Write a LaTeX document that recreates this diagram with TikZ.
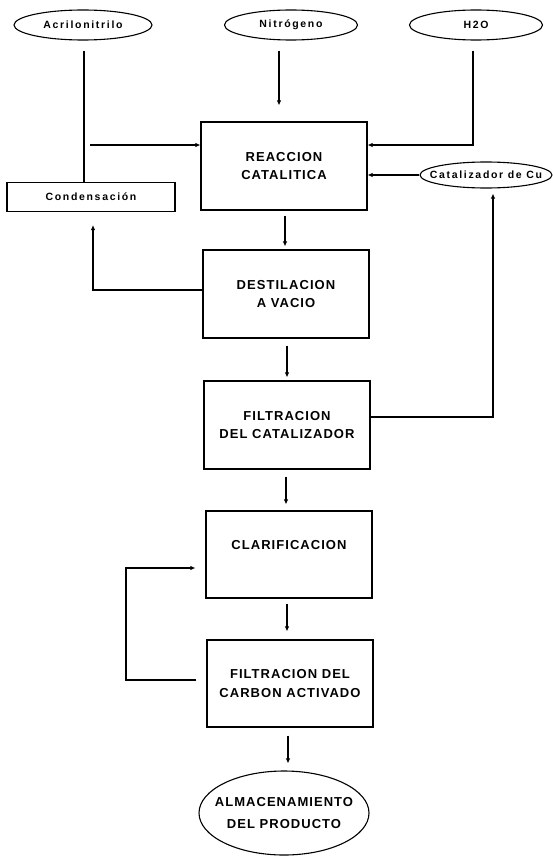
\documentclass[tikz,border=0pt]{standalone}
\usepackage{fontspec}
\setmainfont{Liberation Sans}
\newfontfamily\smallf[LetterSpace=16]{Liberation Sans}
\newfontfamily\bigf[LetterSpace=8]{Liberation Sans}
\usetikzlibrary{shapes.geometric,arrows.meta}
\begin{document}
\begin{tikzpicture}[x=1pt,y=-1pt,
  box/.style={draw,line width=1.1pt,rectangle,minimum width=166pt,minimum height=88pt,inner sep=0pt,align=center,font=\bigf\bfseries\fontsize{13}{18.5}\selectfont},
  oval/.style={draw,line width=1.1pt,ellipse,inner sep=0pt,font=\smallf\bfseries\fontsize{10.5}{12}\selectfont},
  smallbox/.style={draw,line width=1.1pt,rectangle,inner sep=0pt,font=\smallf\bfseries\fontsize{10.5}{12}\selectfont},
  flow/.style={line width=1.6pt,-{Latex[length=5pt,width=4.5pt]}},
  plain/.style={line width=1.6pt}]
\useasboundingbox (0,0) rectangle (553,856);
% inputs
\node[oval,minimum width=138pt,minimum height=30pt] (acr) at (83,25) {Acrilonitrilo};
\node[oval,minimum width=133pt,minimum height=30pt] (nit) at (291,25) {Nitrógeno};
\node[oval,minimum width=133pt,minimum height=30pt] (h2o) at (476,25) {H2O};
% process boxes
\node[box] (reac) at (284,166) {REACCION\\CATALITICA};
\node[oval,inner xsep=-19pt,minimum width=132pt,minimum height=26pt] (cat) at (486,175) {Catalizador de Cu};
\node[smallbox,minimum width=168pt,minimum height=29pt] (cond) at (91,197) {Condensación};
\node[box] (dest) at (286,294) {DESTILACION\\A VACIO};
\node[box] (filc) at (287,425) {FILTRACION\\DEL CATALIZADOR};
\node[box,minimum height=87pt] (clar) at (289,554.5) {CLARIFICACION\\\mbox{}};
\node[box,minimum height=87pt] (carb) at (290,683.5) {FILTRACION DEL\\CARBON ACTIVADO};
\node[draw,line width=1.1pt,ellipse,inner xsep=-22pt,inner ysep=0pt,minimum width=170pt,minimum height=84pt,align=center,font=\bigf\bfseries\fontsize{13}{22}\selectfont] (alm) at (284,813) {ALMACENAMIENTO\\DEL PRODUCTO};
% junction coordinates
\coordinate (jl) at (84,145);
\coordinate (jr) at (473,145);
\coordinate (jd) at (93,290);
\coordinate (jf) at (493,417);
\coordinate (jc1) at (126,680);
\coordinate (jc2) at (126,568);
% connectors
\draw[plain,shorten <=10pt] (acr.south -| jl) -- (jl) -- (jl |- cond.north);
\draw[flow,shorten <=6pt] (jl) -- (jl -| reac.west);
\draw[flow,shorten <=10pt,shorten >=16pt] (nit.south -| 279,0) -- (279,0 |- reac.north);
\draw[flow,shorten <=10pt] (h2o.south -| jr) -- (jr) -- (jr -| reac.east);
\draw[flow] (cat.west) -- (reac.east |- cat.west);
\draw[flow,shorten <=5pt,shorten >=3pt] (reac.south -| 285,0) -- (285,0 |- dest.north);
\draw[flow,shorten >=13pt] (dest.west |- jd) -- (jd) -- (jd |- cond.south);
\draw[flow,shorten <=7pt,shorten >=3pt] (dest.south -| 287,0) -- (287,0 |- filc.north);
\draw[flow,shorten >=5pt] (filc.east |- jf) -- (jf) -- (jf |- cat.south);
\draw[flow,shorten <=7pt,shorten >=6pt] (filc.south -| 286,0) -- (286,0 |- clar.north);
\draw[flow,shorten <=5pt,shorten >=8pt] (clar.south -| 287,0) -- (287,0 |- carb.north);
\draw[flow,shorten <=10pt,shorten >=10pt] (carb.west |- jc1) -- (jc1) -- (jc2) -- (jc2 -| clar.west);
\draw[flow,shorten <=8pt,shorten >=7pt] (carb.south -| 288,0) -- (288,0 |- alm.north);
\end{tikzpicture}
\end{document}
